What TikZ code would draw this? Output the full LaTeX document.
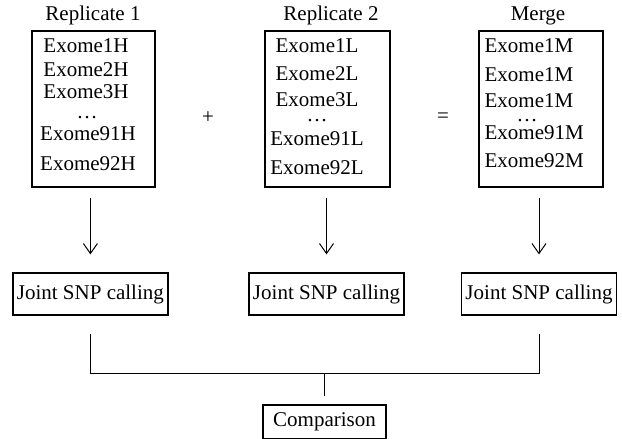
\documentclass[tikz,border=0pt]{standalone}
\usepackage{fontspec}
\setmainfont{Liberation Serif}
\usepackage{tikz}
\usetikzlibrary{arrows.meta}
\usetikzlibrary{positioning}
\usetikzlibrary{calc}
\tikzset{
    listbox/.style={draw=black, minimum width=61.5pt, minimum height=78pt, inner sep=0pt},
    callbox/.style={draw=black, minimum width=77.5pt, minimum height=21pt, inner sep=0pt},
    item/.style={anchor=base, inner sep=0pt},
    itemleft/.style={anchor=base west, inner sep=0pt},
    flow/.style={draw=black, line width=0.5pt, -{Straight Barb[length=5pt,width=7pt]}},
    branch/.style={draw=black, line width=0.5pt},
}
\begin{document}
\begin{tikzpicture}[x=0.5pt, y=-0.5pt, line width=0.6pt, font=\fontsize{10.5}{12.5}\selectfont]
	\useasboundingbox (0,0) rectangle (622,439);
	% the three lists
	\node[listbox] (rep1) at (93.5,109) {};
	\node[listbox, minimum width=62.5pt] (rep2) at (327.5,109) {};
	\node[listbox, minimum width=62pt] (merge) at (541,109) {};
	\node[item] (rep1title) at (93,20) {Replicate 1};
	\node[item] (rep2title) at (331,20) {Replicate 2};
	\node[item] (mergetitle) at (538,20) {Merge};
	\node[item] (h1) at (86,53) {Exome1H};
	\node[item] (h2) at (86,76) {Exome2H};
	\node[item] (h3) at (86,98) {Exome3H};
	\node[item] (hdots) at (87,119) {\dots};
	\node[item] (h91) at (88,140) {Exome91H};
	\node[item] (h92) at (88,170) {Exome92H};
	\node[item] (l1) at (317,53) {Exome1L};
	\node[item] (l2) at (317,80) {Exome2L};
	\node[item] (l3) at (317,106) {Exome3L};
	\node[item] (ldots) at (317,121) {\dots};
	\node[item] (l91) at (317,145) {Exome91L};
	\node[item] (l92) at (317,174) {Exome92L};
	\node[itemleft] (m1) at (484,53) {Exome1M};
	\node[itemleft] (m2) at (484,81) {Exome1M};
	\node[itemleft] (m3) at (484,107) {Exome1M};
	\node[item] (mdots) at (527,121) {\dots};
	\node[itemleft] (m91) at (484,139) {Exome91M};
	\node[itemleft] (m92) at (484,167) {Exome92M};
	\node (plus) at (208,118) {+};
	\node (equals) at (443,118) {=};
	% calling and comparison
	\node[callbox] (call1) at (90.4,294) {Joint SNP calling};
	\node[callbox] (call2) at (326.5,294) {Joint SNP calling};
	\node[callbox] (call3) at (539,294) {Joint SNP calling};
	\node[callbox, minimum width=61.5pt, minimum height=17pt] (cmp) at (324.5,422) {Comparison};
	\coordinate (join) at (324.5,373);
	\draw[flow, shorten <=5pt, shorten >=9pt] (call1.north |- rep1.south) -- (call1.north);
	\draw[flow, shorten <=5pt, shorten >=9pt] (call2.north |- rep2.south) -- (call2.north);
	\draw[flow, shorten <=5pt, shorten >=9pt] (call3.north |- merge.south) -- (call3.north);
	\draw[branch, shorten <=9pt, shorten >=9pt] (call1.south) -- (call1.south |- join) -- (call3.south |- join) -- (call3.south);
	\draw[branch, shorten >=4pt] (join) -- (cmp.north);
\end{tikzpicture}
\end{document}
